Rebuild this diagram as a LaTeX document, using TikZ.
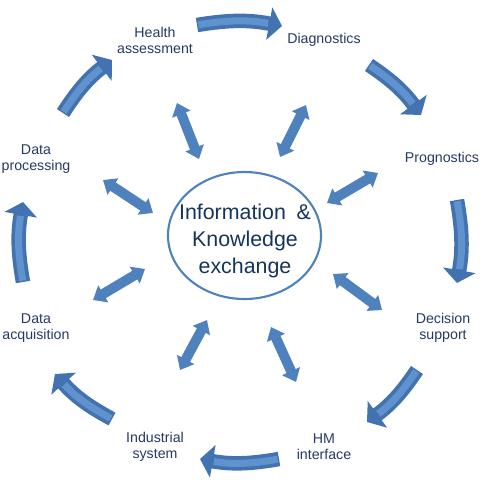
\documentclass[tikz,border=0pt]{standalone}
\usepackage{fontspec}
\setmainfont{Liberation Sans}
\usetikzlibrary{arrows.meta}

\definecolor{arrowblue}{RGB}{79,129,189}
\definecolor{arrowdark}{RGB}{66,115,176}
\definecolor{arrowlight}{RGB}{96,147,205}
\definecolor{labelblue}{RGB}{36,58,100}
\definecolor{hubblue}{RGB}{20,52,92}

\tikzset{
  steplabel/.style={align=center, text=labelblue, font=\fontsize{10.1}{11.3}\selectfont},
  cycarrow/.style={draw=arrowdark, line width=10.3pt,
    -{Triangle[width=23pt, length=9.2pt, fill=arrowdark]}},
  cyclight/.style={draw=arrowlight, line width=5pt, shorten <=1pt, shorten >=10pt},
  linkarrow/.style={draw=arrowblue, line width=7.1pt,
    {Triangle[width=13.5pt, length=8.5pt]}-{Triangle[width=13.5pt, length=8.5pt]}}
}

\begin{document}
\begin{tikzpicture}[x=0.025cm, y=-0.025cm]
  \useasboundingbox (0,0) rectangle (488,483);

  % hub in the middle
  \draw[arrowblue, line width=1.5pt] (244.5,235.5) ellipse [x radius=76.5, y radius=63.5];
  \node[align=center, text=hubblue, font=\fontsize{15.2}{19.2}\selectfont] (hub) at (245,241)
    {Information\enspace\&\\Knowledge\\exchange};

  % the eight steps
  \node[steplabel] (health) at (155,40) {Health\\assessment};
  \node[steplabel] (diag)   at (324,40) {Diagnostics};
  \node[steplabel] (progn)  at (442,159) {Prognostics};
  \node[steplabel] (decis)  at (443,328) {Decision\\support};
  \node[steplabel] (hmi)    at (324,447) {HM\\interface};
  \node[steplabel] (indus)  at (155,447) {Industrial\\system};
  \node[steplabel] (dacq)   at (36,328) {Data\\acquisition};
  \node[steplabel] (dproc)  at (36,159) {Data\\processing};

  % curved arrows round the cycle
  \foreach \i/\sx/\sy/\tx/\ty in {1/197/25/282/26, 2/369/65/421/115, 3/457/200/457/283,
      4/417/370/367/422, 5/279/459/200/459, 6/112/419/55/374, 7/23/282/23/202, 8/63/113/112/60} {
    \coordinate (s\i) at (\sx,\sy);
    \coordinate (t\i) at (\tx,\ty);
    \draw[cycarrow] (s\i) to[bend left=10] (t\i);
    \draw[cyclight] (s\i) to[bend left=10] (t\i);
  }

  % links to the hub
  \foreach \i/\ax/\ay/\bx/\by in {1/177/103/199/159, 2/306/105/280/157, 3/378/173/327/203,
      4/333/274/382/310, 5/271/327/296/382, 6/207/320/180/370, 7/145/269/93/300, 8/103/180/153/213} {
    \coordinate (la\i) at (\ax,\ay);
    \coordinate (lb\i) at (\bx,\by);
    \draw[linkarrow] (la\i) -- (lb\i);
  }
\end{tikzpicture}
\end{document}
